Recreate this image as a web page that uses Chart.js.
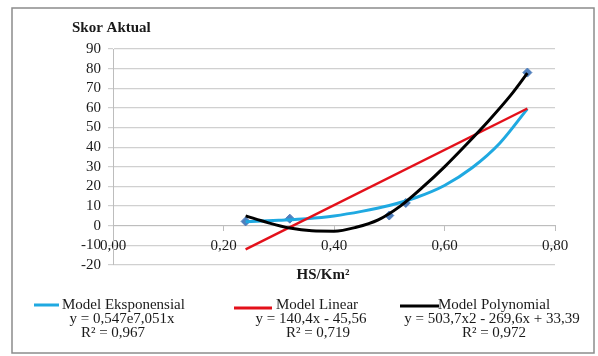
<!DOCTYPE html>
<html>
<head>
<meta charset="utf-8">
<script src="https://cdn.jsdelivr.net/npm/chart.js@4"></script>
<style>
  html, body { margin: 0; padding: 0; background: #fff; }
  canvas { display: block; }
</style>
</head>
<body>
<canvas id="myChart" width="598" height="356"></canvas>
<script>
// observed points
const obsX = [0.24, 0.32, 0.50, 0.53, 0.75];
const obsY = [2.2, 3.6, 5.2, 11.6, 78];

// model curves
const expX = [0.24, 0.30, 0.35, 0.40, 0.45, 0.50, 0.55, 0.60, 0.65, 0.70, 0.75];
const expY = [2.0, 2.8, 3.6, 5.0, 7.3, 10.3, 14.5, 20.5, 29.5, 42, 59.5];

const linX = [0.24, 0.75];
const linY = [-12, 59.7];

const polyX = [0.24, 0.28, 0.32, 0.36, 0.40, 0.44, 0.48, 0.52, 0.56, 0.60, 0.64, 0.68, 0.72, 0.75];
const polyY = [5.0, 1.6, -1.2, -2.6, -2.8, -0.8, 3.0, 10, 19.5, 30, 41.5, 53.5, 66.5, 77.7];

const xTicks = [0, 0.2, 0.4, 0.6, 0.8];

const legendNames = ['Model Eksponensial', 'Model Linear', 'Model Polynomial'];
const legendEq = ['y = 0,547e7,051x', 'y = 140,4x - 45,56', 'y = 503,7x2 - 269,6x + 33,39'];
const legendR2 = ['R\u00b2 = 0,967', 'R\u00b2 = 0,719', 'R\u00b2 = 0,972'];
const legendColors = ['#1fa9e1', '#e3101a', '#000000'];

const serif = '"Liberation Serif", "Times New Roman", serif';

function toPoints(xs, ys) {
    return xs.map((x, i) => ({x: x, y: ys[i]}));
}

const frame = {
    id: 'frame',
    beforeDraw(chart) {
        const c = chart.ctx;
        c.save();
        c.fillStyle = '#fff';
        c.fillRect(0, 0, chart.width, chart.height);
        c.restore();
    },
    afterDraw(chart) {
        const c = chart.ctx;
        c.save();
        c.strokeStyle = '#8c8c8c';
        c.lineWidth = 1.5;
        c.strokeRect(12, 8, 582, 345);

        c.fillStyle = '#1a1a1a';
        c.textBaseline = 'middle';
        c.font = 'bold 15px ' + serif;
        c.textAlign = 'left';
        c.fillText('Skor Aktual', 72, 28);
        c.textAlign = 'center';
        c.fillText('HS/Km\u00b2', 323, 275);

        // legend, three entries with the equation under each name
        const lineFrom = [34, 234, 400];
        const lineTo = [59, 272, 439];
        const lineY = [305, 308, 306];
        const nameX = [62, 276, 438];
        const eqX = [122, 311, 492];
        const r2X = [113, 318, 494];
        c.font = '15px ' + serif;
        for (let i = 0; i < 3; i++) {
            c.strokeStyle = legendColors[i];
            c.lineWidth = 3;
            c.beginPath();
            c.moveTo(lineFrom[i], lineY[i]);
            c.lineTo(lineTo[i], lineY[i]);
            c.stroke();
            c.textAlign = 'left';
            c.fillText(legendNames[i], nameX[i], 305);
            c.textAlign = 'center';
            c.fillText(legendEq[i], eqX[i], 319);
            c.fillText(legendR2[i], r2X[i], 333);
        }
        c.restore();
    }
};

const ctx = document.getElementById('myChart').getContext('2d');
const myChart = new Chart(ctx, {
    type: 'line',
    data: {
        datasets: [
            {
                label: 'Model Polynomial',
                data: toPoints(polyX, polyY),
                borderColor: legendColors[2],
                borderWidth: 3,
                pointRadius: 0,
                cubicInterpolationMode: 'monotone',
                order: 0
            },
            {
                label: 'Model Linear',
                data: toPoints(linX, linY),
                borderColor: legendColors[1],
                borderWidth: 2.5,
                pointRadius: 0,
                order: 1
            },
            {
                label: 'Model Eksponensial',
                data: toPoints(expX, expY),
                borderColor: legendColors[0],
                borderWidth: 3,
                pointRadius: 0,
                cubicInterpolationMode: 'monotone',
                order: 2
            },
            {
                type: 'scatter',
                label: 'Skor Aktual',
                data: toPoints(obsX, obsY),
                backgroundColor: '#4f7fbd',
                borderColor: '#4f7fbd',
                pointStyle: 'rectRot',
                pointRadius: 4.5,
                order: 3
            }
        ]
    },
    options: {
        responsive: false,
        animation: false,
        devicePixelRatio: 1,
        layout: {
            padding: {left: 0, right: 43, top: 49, bottom: 91}
        },
        plugins: {
            legend: {display: false},
            tooltip: {enabled: false}
        },
        scales: {
            x: {
                type: 'linear',
                position: {y: 0},
                min: 0,
                max: 0.8,
                afterBuildTicks(scale) {
                    scale.ticks = xTicks.map(v => ({value: v}));
                },
                ticks: {
                    callback: v => v.toFixed(2).replace('.', ','),
                    font: {family: serif, size: 15},
                    color: '#1a1a1a',
                    padding: 6,
                    maxRotation: 0,
                    autoSkip: false
                },
                grid: {
                    drawOnChartArea: false,
                    drawTicks: true,
                    tickLength: 5,
                    color: '#bdbdbd'
                },
                border: {color: '#bdbdbd', width: 1}
            },
            y: {
                min: -20,
                max: 90,
                afterFit(scale) {
                    scale.width = 113;
                },
                ticks: {
                    stepSize: 10,
                    autoSkip: false,
                    font: {family: serif, size: 15},
                    color: '#1a1a1a',
                    padding: 7
                },
                grid: {
                    color: '#d0d0d0',
                    lineWidth: 1.2,
                    tickLength: 5
                },
                border: {color: '#bdbdbd', width: 1}
            }
        }
    },
    plugins: [frame]
});
</script>
</body>
</html>
